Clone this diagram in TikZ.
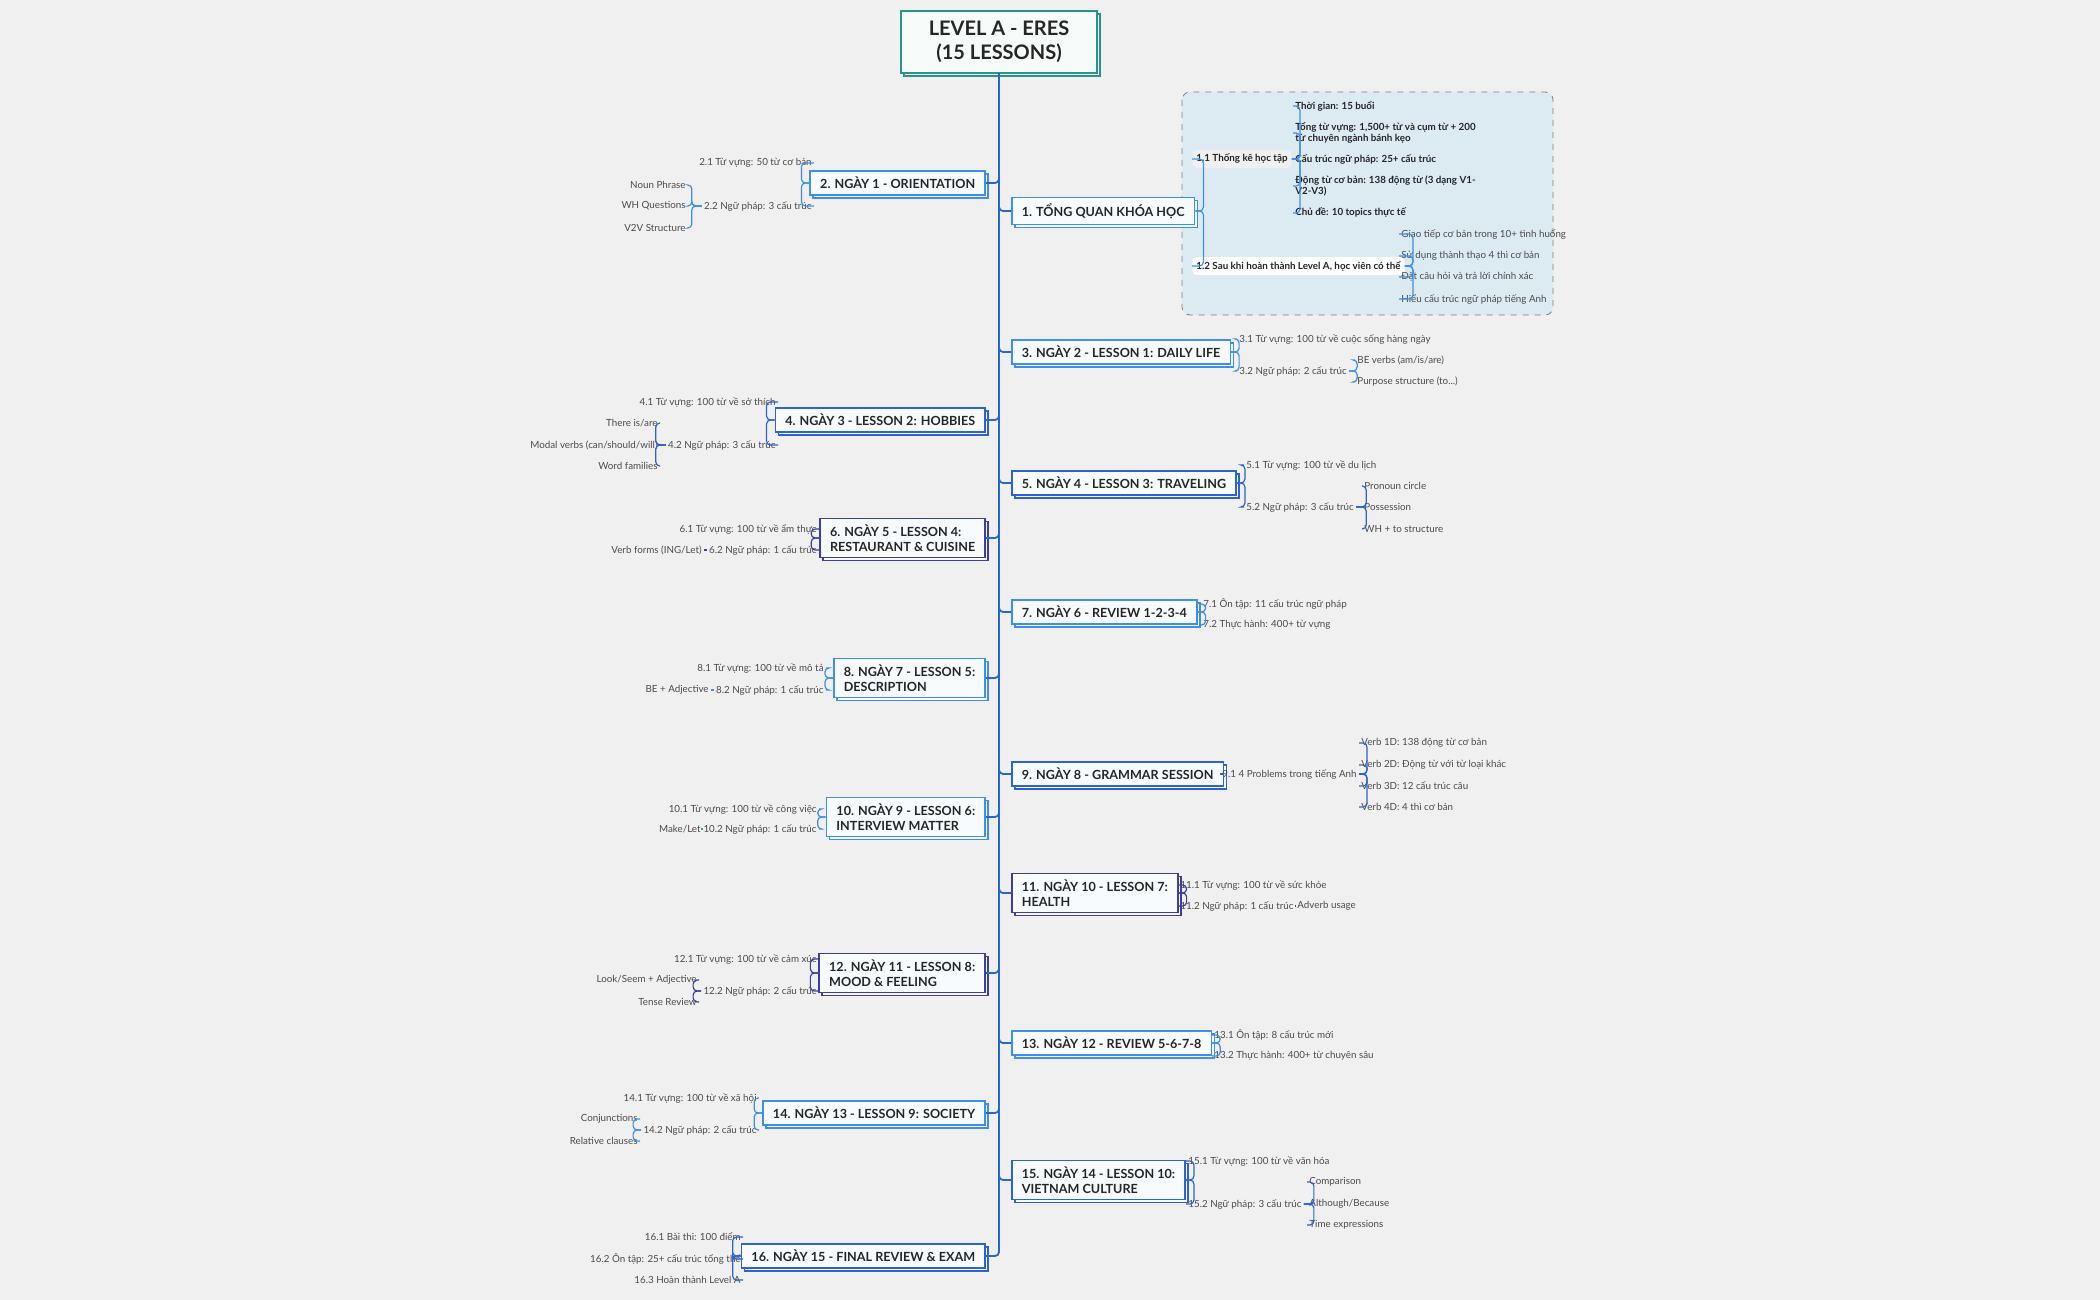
\documentclass[tikz,border=0pt]{standalone}
\usepackage{fontspec}
\setmainfont{Lato}
\usetikzlibrary{shadows}
\definecolor{bgc}{HTML}{F0F0F0}
\definecolor{cA}{HTML}{3D8FE8}
\definecolor{cB}{HTML}{2E62CF}
\definecolor{cC}{HTML}{3E3F9C}
\definecolor{spine}{HTML}{2468D0}
\definecolor{teal}{HTML}{2A9487}
\definecolor{zone}{HTML}{DCEAF2}
\tikzset{
  topic/.style={draw=#1, fill=white!96!cA, line width=0.8pt, inner xsep=5pt, inner ysep=3pt,
    align=left, font=\fontsize{6.3}{7.6}\selectfont\bfseries, text=black!85,
    copy shadow={shadow xshift=1.5pt, shadow yshift=-1.5pt}},
  leaf/.style={inner sep=1pt, font=\fontsize{4.9}{5.8}\selectfont, text=black!70, align=left},
  bleaf/.style={leaf, font=\fontsize{4.9}{5.8}\selectfont\bfseries, text=black!85},
  br/.style={draw=#1, line width=0.6pt, rounded corners=2pt},
}
\begin{document}
\begin{tikzpicture}[x=0.5pt, y=-0.5pt]
  \useasboundingbox[fill=bgc] (0,0) rectangle (2100,1300);
  % overview zone
  \draw[dashed, gray, fill=zone, rounded corners=4pt] (1182,92) rectangle (1553,315);
  % title
  \node[draw=teal, line width=0.9pt, fill=white!96!teal, align=center, inner xsep=14pt, inner ysep=5pt,
    font=\fontsize{10}{12}\selectfont\bfseries, text=black!85,
    copy shadow={shadow xshift=1.5pt, shadow yshift=-1.5pt}] (title) at (999,42) {LEVEL A - ERES\\(15 LESSONS)};
  % main topics, right side
  \node[topic=cA, anchor=west] (n1) at (1011,211) {1. TỔNG QUAN KHÓA HỌC};
  \node[topic=cA, anchor=west] (n3) at (1011,352) {3. NGÀY 2 - LESSON 1: DAILY LIFE};
  \node[topic=cB, anchor=west] (n5) at (1011,483) {5. NGÀY 4 - LESSON 3: TRAVELING};
  \node[topic=cA, anchor=west] (n7) at (1011,612) {7. NGÀY 6 - REVIEW 1-2-3-4};
  \node[topic=cB, anchor=west] (n9) at (1011,774) {9. NGÀY 8 - GRAMMAR SESSION};
  \node[topic=cC, anchor=west] (n11) at (1011,893) {11. NGÀY 10 - LESSON 7:\\HEALTH};
  \node[topic=cA, anchor=west] (n13) at (1011,1043) {13. NGÀY 12 - REVIEW 5-6-7-8};
  \node[topic=cB, anchor=west] (n15) at (1011,1180) {15. NGÀY 14 - LESSON 10:\\VIETNAM CULTURE};
  % main topics, left side
  \node[topic=cA, anchor=east] (n2) at (986,183) {2. NGÀY 1 - ORIENTATION};
  \node[topic=cB, anchor=east] (n4) at (986,420) {4. NGÀY 3 - LESSON 2: HOBBIES};
  \node[topic=cC, anchor=east] (n6) at (986,538) {6. NGÀY 5 - LESSON 4:\\RESTAURANT \& CUISINE};
  \node[topic=cA, anchor=east] (n8) at (986,678) {8. NGÀY 7 - LESSON 5:\\DESCRIPTION};
  \node[topic=cA, anchor=east] (n10) at (986,817) {10. NGÀY 9 - LESSON 6:\\INTERVIEW MATTER};
  \node[topic=cC, anchor=east] (n12) at (986,973) {12. NGÀY 11 - LESSON 8:\\MOOD \& FEELING};
  \node[topic=cA, anchor=east] (n14) at (986,1113) {14. NGÀY 13 - LESSON 9: SOCIETY};
  \node[topic=cB, anchor=east] (n16) at (986,1256) {16. NGÀY 15 - FINAL REVIEW \& EXAM};
  % spine
  \foreach \n in {n1,n3,n5,n7,n9,n11,n13,n15}
    \draw[br=spine, line width=0.9pt] (title.south) |- (\n.west);
  \foreach \n in {n2,n4,n6,n8,n10,n12,n14,n16}
    \draw[br=spine, line width=0.9pt] (title.south) |- (\n.east);

  % 1
  \node[bleaf, fill=black!6, rounded corners=2pt, inner sep=2pt, anchor=west] (n1a) at (1192,159) {1.1 Thống kê học tập};
  \node[bleaf, fill=white, rounded corners=2pt, inner sep=2pt, anchor=west] (n1b) at (1192,266) {1.2 Sau khi hoàn thành Level A, học viên có thể};
  \node[bleaf, anchor=west] (n1a1) at (1293,106) {Thời gian: 15 buổi};
  \node[bleaf, anchor=west] (n1a2) at (1293,133) {Tổng từ vựng: 1,500+ từ và cụm từ + 200\\từ chuyên ngành bánh kẹo};
  \node[bleaf, anchor=west] (n1a3) at (1293,159) {Cấu trúc ngữ pháp: 25+ cấu trúc};
  \node[bleaf, anchor=west] (n1a4) at (1293,186) {Động từ cơ bản: 138 động từ (3 dạng V1-\\V2-V3)};
  \node[bleaf, anchor=west] (n1a5) at (1293,213) {Chủ đề: 10 topics thực tế};
  \node[leaf, anchor=west] (n1b1) at (1399,234) {Giao tiếp cơ bản trong 10+ tình huống};
  \node[leaf, anchor=west] (n1b2) at (1399,256) {Sử dụng thành thạo 4 thì cơ bản};
  \node[leaf, anchor=west] (n1b3) at (1399,277) {Đặt câu hỏi và trả lời chính xác};
  \node[leaf, anchor=west] (n1b4) at (1399,299) {Hiểu cấu trúc ngữ pháp tiếng Anh};
  \foreach \c in {n1a,n1b} \draw[br=cA] (n1.east) -- ++(8,0) |- (\c.west);
  \foreach \c in {n1a1,n1a2,n1a3,n1a4,n1a5} \draw[br=cA] (n1a.east) -- ++(8,0) |- (\c.west);
  \foreach \c in {n1b1,n1b2,n1b3,n1b4} \draw[br=cA] (n1b.east) -- ++(8,0) |- (\c.west);

  % 2
  \node[leaf, anchor=east] (n2a) at (814,163) {2.1 Từ vựng: 50 từ cơ bản};
  \node[leaf, anchor=east] (n2b) at (814,206) {2.2 Ngữ pháp: 3 cấu trúc};
  \node[leaf, anchor=east] (n2b1) at (688,185) {Noun Phrase};
  \node[leaf, anchor=east] (n2b2) at (688,206) {WH Questions};
  \node[leaf, anchor=east] (n2b3) at (688,228) {V2V Structure};
  \foreach \c in {n2a,n2b} \draw[br=cA] (n2.west) -- ++(-8,0) |- (\c.east);
  \foreach \c in {n2b1,n2b2,n2b3} \draw[br=cA] (n2b.west) -- ++(-10,0) |- (\c.east);

  % 3
  \node[leaf, anchor=west] (n3a) at (1237,339) {3.1 Từ vựng: 100 từ về cuộc sống hàng ngày};
  \node[leaf, anchor=west] (n3b) at (1237,371) {3.2 Ngữ pháp: 2 cấu trúc};
  \node[leaf, anchor=west] (n3b1) at (1355,360) {BE verbs (am/is/are)};
  \node[leaf, anchor=west] (n3b2) at (1355,382) {Purpose structure (to...)};
  \foreach \c in {n3a,n3b} \draw[br=cA] (n3.east) -- ++(8,0) |- (\c.west);
  \foreach \c in {n3b1,n3b2} \draw[br=cA] (n3b.east) -- ++(8,0) |- (\c.west);

  % 4
  \node[leaf, anchor=east] (n4a) at (778,402) {4.1 Từ vựng: 100 từ về sở thích};
  \node[leaf, anchor=east] (n4b) at (778,445) {4.2 Ngữ pháp: 3 cấu trúc};
  \node[leaf, anchor=east] (n4b1) at (660,423) {There is/are};
  \node[leaf, anchor=east] (n4b2) at (660,445) {Modal verbs (can/should/will)};
  \node[leaf, anchor=east] (n4b3) at (660,466) {Word families};
  \foreach \c in {n4a,n4b} \draw[br=cB] (n4.west) -- ++(-8,0) |- (\c.east);
  \foreach \c in {n4b1,n4b2,n4b3} \draw[br=cB] (n4b.west) -- ++(-10,0) |- (\c.east);

  % 5
  \node[leaf, anchor=west] (n5a) at (1244,465) {5.1 Từ vựng: 100 từ về du lịch};
  \node[leaf, anchor=west] (n5b) at (1244,507) {5.2 Ngữ pháp: 3 cấu trúc};
  \node[leaf, anchor=west] (n5b1) at (1362,486) {Pronoun circle};
  \node[leaf, anchor=west] (n5b2) at (1362,507) {Possession};
  \node[leaf, anchor=west] (n5b3) at (1362,529) {WH + to structure};
  \foreach \c in {n5a,n5b} \draw[br=cB] (n5.east) -- ++(8,0) |- (\c.west);
  \foreach \c in {n5b1,n5b2,n5b3} \draw[br=cB] (n5b.east) -- ++(10,0) |- (\c.west);

  % 6
  \node[leaf, anchor=east] (n6a) at (819,529) {6.1 Từ vựng: 100 từ về ẩm thực};
  \node[leaf, anchor=east] (n6b) at (819,550) {6.2 Ngữ pháp: 1 cấu trúc};
  \node[leaf, anchor=east] (n6b1) at (704,550) {Verb forms (ING/Let)};
  \foreach \c in {n6a,n6b} \draw[br=cC] (n6.west) -- ++(-8,0) |- (\c.east);
  \draw[br=cC] (n6b.west) -- (n6b1.east);

  % 7
  \node[leaf, anchor=west] (n7a) at (1201,604) {7.1 Ôn tập: 11 cấu trúc ngữ pháp};
  \node[leaf, anchor=west] (n7b) at (1201,625) {7.2 Thực hành: 400+ từ vựng};
  \foreach \c in {n7a,n7b} \draw[br=cA] (n7.east) -- ++(8,0) |- (\c.west);

  % 8
  \node[leaf, anchor=east] (n8a) at (826,668) {8.1 Từ vựng: 100 từ về mô tả};
  \node[leaf, anchor=east] (n8b) at (826,690) {8.2 Ngữ pháp: 1 cấu trúc};
  \node[leaf, anchor=east] (n8b1) at (711,690) {BE + Adjective};
  \foreach \c in {n8a,n8b} \draw[br=cA] (n8.west) -- ++(-8,0) |- (\c.east);
  \draw[br=cA] (n8b.west) -- (n8b1.east);

  % 9
  \node[leaf, anchor=west] (n9a) at (1220,774) {9.1 4 Problems trong tiếng Anh};
  \node[leaf, anchor=west] (n9a1) at (1359,743) {Verb 1D: 138 động từ cơ bản};
  \node[leaf, anchor=west] (n9a2) at (1359,765) {Verb 2D: Động từ với từ loại khác};
  \node[leaf, anchor=west] (n9a3) at (1359,786) {Verb 3D: 12 cấu trúc câu};
  \node[leaf, anchor=west] (n9a4) at (1359,807) {Verb 4D: 4 thì cơ bản};
  \draw[br=cB] (n9.east) -- (n9a.west);
  \foreach \c in {n9a1,n9a2,n9a3,n9a4} \draw[br=cB] (n9a.east) -- ++(8,0) |- (\c.west);

  % 10
  \node[leaf, anchor=east] (n10a) at (819,809) {10.1 Từ vựng: 100 từ về công việc};
  \node[leaf, anchor=east] (n10b) at (819,829) {10.2 Ngữ pháp: 1 cấu trúc};
  \node[leaf, anchor=east] (n10b1) at (703,829) {Make/Let};
  \foreach \c in {n10a,n10b} \draw[br=cA] (n10.west) -- ++(-8,0) |- (\c.east);
  \draw[br=cA] (n10b.west) -- (n10b1.east);

  % 11
  \node[leaf, anchor=west] (n11a) at (1178,885) {11.1 Từ vựng: 100 từ về sức khỏe};
  \node[leaf, anchor=west] (n11b) at (1178,906) {11.2 Ngữ pháp: 1 cấu trúc};
  \node[leaf, anchor=west] (n11b1) at (1295,906) {Adverb usage};
  \foreach \c in {n11a,n11b} \draw[br=cC] (n11.east) -- ++(8,0) |- (\c.west);
  \draw[br=cC] (n11b.east) -- (n11b1.west);

  % 12
  \node[leaf, anchor=east] (n12a) at (819,959) {12.1 Từ vựng: 100 từ về cảm xúc};
  \node[leaf, anchor=east] (n12b) at (819,991) {12.2 Ngữ pháp: 2 cấu trúc};
  \node[leaf, anchor=east] (n12b1) at (699,980) {Look/Seem + Adjective};
  \node[leaf, anchor=east] (n12b2) at (699,1002) {Tense Review};
  \foreach \c in {n12a,n12b} \draw[br=cC] (n12.west) -- ++(-8,0) |- (\c.east);
  \foreach \c in {n12b1,n12b2} \draw[br=cC] (n12b.west) -- ++(-8,0) |- (\c.east);

  % 13
  \node[leaf, anchor=west] (n13a) at (1212,1035) {13.1 Ôn tập: 8 cấu trúc mới};
  \node[leaf, anchor=west] (n13b) at (1212,1056) {13.2 Thực hành: 400+ từ chuyên sâu};
  \foreach \c in {n13a,n13b} \draw[br=cA] (n13.east) -- ++(8,0) |- (\c.west);

  % 14
  \node[leaf, anchor=east] (n14a) at (759,1098) {14.1 Từ vựng: 100 từ về xã hội};
  \node[leaf, anchor=east] (n14b) at (759,1130) {14.2 Ngữ pháp: 2 cấu trúc};
  \node[leaf, anchor=east] (n14b1) at (640,1119) {Conjunctions};
  \node[leaf, anchor=east] (n14b2) at (640,1141) {Relative clauses};
  \foreach \c in {n14a,n14b} \draw[br=cA] (n14.west) -- ++(-8,0) |- (\c.east);
  \foreach \c in {n14b1,n14b2} \draw[br=cA] (n14b.west) -- ++(-8,0) |- (\c.east);

  % 15
  \node[leaf, anchor=west] (n15a) at (1186,1161) {15.1 Từ vựng: 100 từ về văn hóa};
  \node[leaf, anchor=west] (n15b) at (1186,1204) {15.2 Ngữ pháp: 3 cấu trúc};
  \node[leaf, anchor=west] (n15b1) at (1307,1182) {Comparison};
  \node[leaf, anchor=west] (n15b2) at (1307,1204) {Although/Because};
  \node[leaf, anchor=west] (n15b3) at (1307,1225) {Time expressions};
  \foreach \c in {n15a,n15b} \draw[br=cB] (n15.east) -- ++(8,0) |- (\c.west);
  \foreach \c in {n15b1,n15b2,n15b3} \draw[br=cB] (n15b.east) -- ++(10,0) |- (\c.west);

  % 16
  \node[leaf, anchor=east] (n16a) at (743,1237) {16.1 Bài thi: 100 điểm};
  \node[leaf, anchor=east] (n16b) at (743,1259) {16.2 Ôn tập: 25+ cấu trúc tổng thể};
  \node[leaf, anchor=east] (n16c) at (743,1280) {16.3 Hoàn thành Level A};
  \foreach \c in {n16a,n16b,n16c} \draw[br=cB] (n16.west) -- ++(-8,0) |- (\c.east);
\end{tikzpicture}
\end{document}
